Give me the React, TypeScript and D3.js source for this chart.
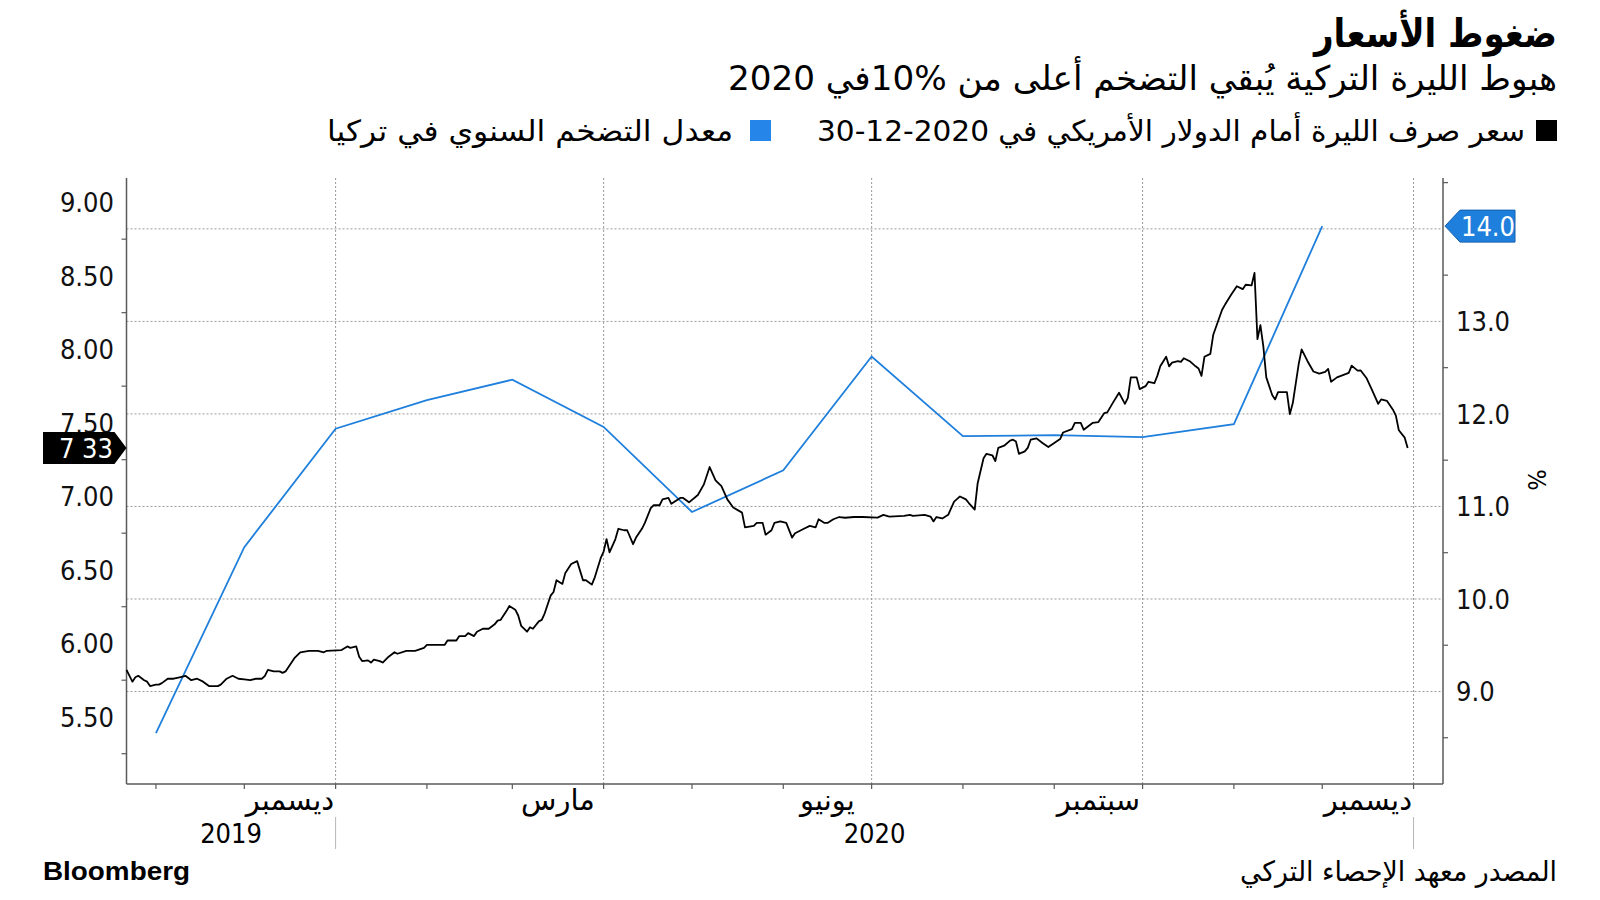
import React from "react";
import * as d3 from "d3";

const W = 1600;
const H = 900;
const margin = { top: 178, right: 157, bottom: 116, left: 126.5 };
const plotBottom = H - margin.bottom;
const plotRight = W - margin.right;

const AR = "'DejaVu Sans', sans-serif";
const NUM = "'DejaVu Sans Condensed', 'DejaVu Sans', sans-serif";

// USD/TRY (left axis)
const fxPoints: [string, number][] = [
  ["2019-10-22", 5.82], ["2019-10-24", 5.74], ["2019-10-25", 5.77], ["2019-10-26", 5.78], ["2019-10-28", 5.75],
  ["2019-10-29", 5.74], ["2019-10-30", 5.71], ["2019-11-01", 5.72], ["2019-11-02", 5.72], ["2019-11-03", 5.73],
  ["2019-11-05", 5.76], ["2019-11-07", 5.76], ["2019-11-09", 5.77], ["2019-11-11", 5.78], ["2019-11-13", 5.75],
  ["2019-11-15", 5.76], ["2019-11-17", 5.74], ["2019-11-19", 5.71], ["2019-11-22", 5.71], ["2019-11-23", 5.72],
  ["2019-11-25", 5.76], ["2019-11-27", 5.78], ["2019-11-29", 5.76], ["2019-12-01", 5.755], ["2019-12-03", 5.75],
  ["2019-12-05", 5.76], ["2019-12-07", 5.76], ["2019-12-08", 5.78], ["2019-12-09", 5.82], ["2019-12-11", 5.81],
  ["2019-12-13", 5.81], ["2019-12-14", 5.8], ["2019-12-15", 5.81], ["2019-12-18", 5.9], ["2019-12-20", 5.94],
  ["2019-12-23", 5.95], ["2019-12-24", 5.95], ["2019-12-26", 5.95], ["2019-12-28", 5.94], ["2019-12-29", 5.95],
  ["2020-01-03", 5.955], ["2020-01-05", 5.98], ["2020-01-06", 5.97], ["2020-01-08", 5.98], ["2020-01-09", 5.91],
  ["2020-01-10", 5.88], ["2020-01-12", 5.885], ["2020-01-13", 5.87], ["2020-01-14", 5.89], ["2020-01-16", 5.88],
  ["2020-01-17", 5.87], ["2020-01-19", 5.91], ["2020-01-21", 5.94], ["2020-01-22", 5.93], ["2020-01-25", 5.95],
  ["2020-01-28", 5.95], ["2020-01-31", 5.97], ["2020-02-01", 5.99], ["2020-02-07", 5.99], ["2020-02-08", 6.02],
  ["2020-02-09", 6.02], ["2020-02-11", 6.02], ["2020-02-12", 6.05], ["2020-02-14", 6.05], ["2020-02-15", 6.07],
  ["2020-02-17", 6.05], ["2020-02-18", 6.08], ["2020-02-20", 6.1], ["2020-02-22", 6.1], ["2020-02-24", 6.13],
  ["2020-02-25", 6.155], ["2020-02-26", 6.16], ["2020-02-28", 6.22], ["2020-02-29", 6.255], ["2020-03-02", 6.23],
  ["2020-03-03", 6.19], ["2020-03-04", 6.12], ["2020-03-06", 6.08], ["2020-03-07", 6.11], ["2020-03-08", 6.1],
  ["2020-03-10", 6.15], ["2020-03-11", 6.16], ["2020-03-12", 6.205], ["2020-03-14", 6.325], ["2020-03-15", 6.35],
  ["2020-03-16", 6.43], ["2020-03-18", 6.405], ["2020-03-19", 6.48], ["2020-03-21", 6.54], ["2020-03-23", 6.56],
  ["2020-03-25", 6.43], ["2020-03-26", 6.43], ["2020-03-28", 6.4], ["2020-03-29", 6.45], ["2020-03-31", 6.58],
  ["2020-04-01", 6.625], ["2020-04-02", 6.71], ["2020-04-03", 6.62], ["2020-04-05", 6.71], ["2020-04-06", 6.78],
  ["2020-04-08", 6.77], ["2020-04-09", 6.77], ["2020-04-11", 6.675], ["2020-04-12", 6.72], ["2020-04-14", 6.78],
  ["2020-04-15", 6.82], ["2020-04-17", 6.92], ["2020-04-18", 6.94], ["2020-04-20", 6.94], ["2020-04-21", 6.98],
  ["2020-04-23", 6.99], ["2020-04-24", 6.95], ["2020-04-27", 6.99], ["2020-04-28", 6.99], ["2020-04-30", 6.96],
  ["2020-05-03", 7.01], ["2020-05-05", 7.08], ["2020-05-07", 7.2], ["2020-05-09", 7.11], ["2020-05-11", 7.07],
  ["2020-05-13", 6.98], ["2020-05-15", 6.925], ["2020-05-18", 6.89], ["2020-05-19", 6.79], ["2020-05-22", 6.8],
  ["2020-05-23", 6.82], ["2020-05-25", 6.82], ["2020-05-26", 6.74], ["2020-05-28", 6.77], ["2020-05-29", 6.82],
  ["2020-05-31", 6.83], ["2020-06-02", 6.82], ["2020-06-04", 6.72], ["2020-06-05", 6.75], ["2020-06-07", 6.77],
  ["2020-06-08", 6.78], ["2020-06-10", 6.8], ["2020-06-12", 6.79], ["2020-06-13", 6.845], ["2020-06-15", 6.82],
  ["2020-06-16", 6.82], ["2020-06-18", 6.845], ["2020-06-20", 6.86], ["2020-06-22", 6.855], ["2020-06-25", 6.86],
  ["2020-06-28", 6.86], ["2020-07-03", 6.856], ["2020-07-05", 6.875], ["2020-07-07", 6.863], ["2020-07-12", 6.868],
  ["2020-07-14", 6.875], ["2020-07-15", 6.868], ["2020-07-19", 6.875], ["2020-07-21", 6.863], ["2020-07-22", 6.83],
  ["2020-07-23", 6.86], ["2020-07-25", 6.85], ["2020-07-27", 6.875], ["2020-07-29", 6.965], ["2020-07-31", 7.0],
  ["2020-08-02", 6.98], ["2020-08-03", 6.955], ["2020-08-05", 6.91], ["2020-08-06", 7.09], ["2020-08-08", 7.26],
  ["2020-08-09", 7.29], ["2020-08-11", 7.28], ["2020-08-12", 7.24], ["2020-08-13", 7.33], ["2020-08-15", 7.345],
  ["2020-08-17", 7.38], ["2020-08-18", 7.386], ["2020-08-19", 7.374], ["2020-08-20", 7.29], ["2020-08-22", 7.306],
  ["2020-08-23", 7.33], ["2020-08-24", 7.386], ["2020-08-26", 7.395], ["2020-08-28", 7.363], ["2020-08-30", 7.336],
  ["2020-09-01", 7.363], ["2020-09-03", 7.39], ["2020-09-04", 7.435], ["2020-09-07", 7.458], ["2020-09-08", 7.5],
  ["2020-09-10", 7.5], ["2020-09-11", 7.454], ["2020-09-14", 7.5], ["2020-09-16", 7.506], ["2020-09-18", 7.567],
  ["2020-09-19", 7.572], ["2020-09-21", 7.64], ["2020-09-23", 7.705], ["2020-09-25", 7.63], ["2020-09-26", 7.67],
  ["2020-09-27", 7.81], ["2020-09-29", 7.81], ["2020-09-30", 7.73], ["2020-10-02", 7.75], ["2020-10-03", 7.78],
  ["2020-10-05", 7.77], ["2020-10-06", 7.82], ["2020-10-07", 7.885], ["2020-10-09", 7.95], ["2020-10-10", 7.885],
  ["2020-10-11", 7.91], ["2020-10-13", 7.92], ["2020-10-14", 7.915], ["2020-10-15", 7.94], ["2020-10-17", 7.92],
  ["2020-10-19", 7.885], ["2020-10-20", 7.87], ["2020-10-21", 7.82], ["2020-10-22", 7.95], ["2020-10-24", 7.97],
  ["2020-10-25", 8.1], ["2020-10-28", 8.27], ["2020-10-29", 8.305], ["2020-10-31", 8.37], ["2020-11-02", 8.43],
  ["2020-11-04", 8.41], ["2020-11-05", 8.44], ["2020-11-07", 8.435], ["2020-11-08", 8.52], ["2020-11-09", 8.07],
  ["2020-11-10", 8.165], ["2020-11-11", 8.02], ["2020-11-12", 7.81], ["2020-11-14", 7.69], ["2020-11-15", 7.66],
  ["2020-11-16", 7.71], ["2020-11-19", 7.71], ["2020-11-20", 7.56], ["2020-11-21", 7.635], ["2020-11-23", 7.9],
  ["2020-11-24", 8.0], ["2020-11-26", 7.92], ["2020-11-28", 7.85], ["2020-11-30", 7.835], ["2020-12-02", 7.847],
  ["2020-12-03", 7.867], ["2020-12-04", 7.78], ["2020-12-06", 7.81], ["2020-12-10", 7.84], ["2020-12-11", 7.89],
  ["2020-12-13", 7.856], ["2020-12-14", 7.858], ["2020-12-16", 7.806], ["2020-12-18", 7.72], ["2020-12-20", 7.63],
  ["2020-12-21", 7.66], ["2020-12-23", 7.65], ["2020-12-25", 7.59], ["2020-12-26", 7.55], ["2020-12-27", 7.45],
  ["2020-12-29", 7.4], ["2020-12-30", 7.33],
];

// annual CPI (right axis), plotted at the start of the following month
const cpiDates = [
  "2019-11-01", "2019-12-01", "2020-01-01", "2020-02-01", "2020-03-01", "2020-04-01", "2020-05-01",
  "2020-06-01", "2020-07-01", "2020-08-01", "2020-09-01", "2020-10-01", "2020-11-01", "2020-12-01",
];
const cpiValues = [8.55, 10.56, 11.84, 12.15, 12.37, 11.86, 10.94, 11.39, 12.62, 11.76, 11.77, 11.75, 11.89, 14.03];

const leftLabels = [5.5, 6, 6.5, 7, 7.5, 8, 8.5, 9];
const leftMinor = [5.25, 5.75, 6.25, 6.75, 7.25, 7.75, 8.25, 8.75];
const rightLabels = [9, 10, 11, 12, 13, 14];
const rightMinor = [8.5, 9.5, 10.5, 11.5, 12.5, 13.5, 14.5];

const monthLabelDates = ["2019-12-01", "2020-03-01", "2020-06-01", "2020-09-01", "2020-12-01"];
const monthLabelTexts = ["ديسمبر", "مارس", "يونيو", "سبتمبر", "ديسمبر"];
const yearLabels = ["2019", "2020"];

const title = "ضغوط الأسعار";
const subtitle = "هبوط الليرة التركية يُبقي التضخم أعلى من %10في 2020";
const legendFx = "سعر صرف الليرة أمام الدولار الأمريكي في 2020-12-30";
const legendCpi = "معدل التضخم السنوي في تركيا";
const source = "المصدر معهد الإحصاء التركي";

const BLUE = "#1f7fdc";
const GRID = "#9a9a9a";
const AXIS = "#5a5a5a";

const parse = d3.timeParse("%Y-%m-%d");

export default function App() {
  const x = d3
    .scaleTime()
    .domain([parse("2019-10-22")!, parse("2021-01-11")!])
    .range([margin.left, plotRight]);
  const yL = d3.scaleLinear().domain([5.044, 9.166]).range([plotBottom, margin.top]);
  const yR = d3.scaleLinear().domain([8.0, 14.55]).range([plotBottom, margin.top]);

  const fx = fxPoints.map(([d, v]) => ({ date: parse(d)!, value: v }));
  const cpi = cpiDates.map((d, i) => ({ date: parse(d)!, value: cpiValues[i] }));

  const fxLine = d3
    .line<{ date: Date; value: number }>()
    .x((d) => x(d.date))
    .y((d) => yL(d.value));
  const cpiLine = d3
    .line<{ date: Date; value: number }>()
    .x((d) => x(d.date))
    .y((d) => yR(d.value));

  const monthTicks = d3.timeMonth.range(parse("2019-11-01")!, parse("2021-01-02")!);
  const quarterTicks = monthTicks.filter((d) => d.getMonth() % 3 === 0);
  const y2020 = x(parse("2020-01-01")!);
  const y2021 = x(parse("2021-01-01")!);

  const lastFx = fx[fx.length - 1];
  const lastCpi = cpi[cpi.length - 1];
  const fxTagY = yL(lastFx.value);
  const cpiTagY = yR(lastCpi.value);

  return (
    <svg width={W} height={H} style={{ display: "block", position: "absolute", left: 0, top: 0, background: "#fff" }}>
      {/* header */}
      <text x={1557} y={47} direction="rtl" textAnchor="start" fontFamily={AR} fontWeight="bold" fontSize={39}
        textLength={243} lengthAdjust="spacingAndGlyphs">{title}</text>
      <text x={1557} y={90} direction="rtl" textAnchor="start" fontFamily={AR} fontSize={34}
        textLength={829} lengthAdjust="spacingAndGlyphs">{subtitle}</text>

      {/* legend */}
      <rect x={1536} y={120} width={21} height={21} fill="#000" />
      <text x={1525} y={141} direction="rtl" textAnchor="start" fontFamily={AR} fontSize={29}
        textLength={708} lengthAdjust="spacingAndGlyphs">{legendFx}</text>
      <rect x={750} y={120} width={21} height={21} fill="#2685e8" />
      <text x={733} y={141} direction="rtl" textAnchor="start" fontFamily={AR} fontSize={29}
        textLength={406} lengthAdjust="spacingAndGlyphs">{legendCpi}</text>

      {/* grid */}
      {rightLabels.map((v) => (
        <line key={"gh" + v} x1={margin.left} x2={plotRight} y1={yR(v)} y2={yR(v)}
          stroke={GRID} strokeWidth={1} strokeDasharray="2,2" />
      ))}
      {quarterTicks.map((d) => (
        <line key={"gv" + d.toISOString()} x1={x(d)} x2={x(d)} y1={margin.top} y2={plotBottom}
          stroke={GRID} strokeWidth={1} strokeDasharray="2,2" />
      ))}

      {/* axes */}
      <line x1={margin.left} x2={margin.left} y1={margin.top} y2={plotBottom} stroke={AXIS} strokeWidth={1.5} />
      <line x1={plotRight} x2={plotRight} y1={margin.top} y2={plotBottom} stroke={AXIS} strokeWidth={1.5} />
      <line x1={margin.left} x2={plotRight} y1={plotBottom} y2={plotBottom} stroke={AXIS} strokeWidth={1.5} />

      {leftMinor.map((v) => (
        <line key={"lt" + v} x1={margin.left - 5} x2={margin.left} y1={yL(v)} y2={yL(v)} stroke={AXIS} strokeWidth={1.2} />
      ))}
      {leftLabels.map((v) => (
        <text key={"ll" + v} x={114} y={yL(v)} dy="0.36em" textAnchor="end" fontFamily={NUM} fontSize={27} fill="#111">
          {d3.format(".2f")(v)}
        </text>
      ))}
      {rightMinor.map((v) => (
        <line key={"rt" + v} x1={plotRight} x2={plotRight + 5} y1={yR(v)} y2={yR(v)} stroke={AXIS} strokeWidth={1.2} />
      ))}
      {rightLabels
        .filter((v) => Math.abs(yR(v) - cpiTagY) > 20)
        .map((v) => (
          <text key={"rl" + v} x={1456} y={yR(v)} dy="0.36em" textAnchor="start" fontFamily={NUM} fontSize={27} fill="#111">
            {d3.format(".1f")(v)}
          </text>
        ))}
      <text x={1537} y={480} transform="rotate(90 1537 480)" textAnchor="middle" dy="0.36em" fontFamily={NUM} fontSize={25}>
        %
      </text>

      {monthTicks.map((d) => (
        <line key={"mt" + d.toISOString()} x1={x(d)} x2={x(d)} y1={plotBottom} y2={plotBottom + 5} stroke={AXIS} strokeWidth={1.2} />
      ))}
      {monthLabelDates.map((s, i) => {
        const d0 = parse(s)!;
        const cx = (x(d0) + x(d3.timeMonth.offset(d0, 1))) / 2;
        return (
          <text key={"ml" + s} x={cx} y={810} textAnchor="middle" fontFamily={AR} fontSize={29}>
            {monthLabelTexts[i]}
          </text>
        );
      })}
      <text x={(margin.left + y2020) / 2} y={843} textAnchor="middle" fontFamily={NUM} fontSize={27}>{yearLabels[0]}</text>
      <text x={(y2020 + y2021) / 2} y={843} textAnchor="middle" fontFamily={NUM} fontSize={27}>{yearLabels[1]}</text>
      <line x1={y2020} x2={y2020} y1={817} y2={849} stroke="#b5b5b5" strokeWidth={1} />
      <line x1={y2021} x2={y2021} y1={817} y2={849} stroke="#b5b5b5" strokeWidth={1} />

      {/* series */}
      <path d={cpiLine(cpi) ?? ""} fill="none" stroke={BLUE} strokeWidth={1.8} />
      <path d={fxLine(fx) ?? ""} fill="none" stroke="#000" strokeWidth={1.8} strokeLinejoin="round" />

      {/* last-value tags */}
      <path
        d={`M${margin.left},${fxTagY} L${margin.left - 12},${fxTagY - 16} L43,${fxTagY - 16} L43,${fxTagY + 16} L${margin.left - 12},${fxTagY + 16} Z`}
        fill="#000"
      />
      <text x={113} y={fxTagY} dy="0.36em" textAnchor="end" fontFamily={NUM} fontSize={27} fill="#fff">7 33</text>
      <path
        d={`M${plotRight + 2},${cpiTagY} L${plotRight + 17},${cpiTagY - 16} L1515,${cpiTagY - 16} L1515,${cpiTagY + 16} L${plotRight + 17},${cpiTagY + 16} Z`}
        fill={BLUE} stroke="#1560b0" strokeWidth={1}
      />
      <text x={1488} y={cpiTagY} dy="0.36em" textAnchor="middle" fontFamily={NUM} fontSize={27} fill="#fff">
        {d3.format(".1f")(lastCpi.value)}
      </text>

      {/* footer */}
      <text x={43} y={880} fontFamily="'Liberation Sans', Arial, sans-serif" fontWeight="bold" fontSize={26}
        textLength={147} lengthAdjust="spacingAndGlyphs">Bloomberg</text>
      <text x={1557} y={881} direction="rtl" textAnchor="start" fontFamily={AR} fontSize={28}
        textLength={317} lengthAdjust="spacingAndGlyphs">{source}</text>
    </svg>
  );
}
